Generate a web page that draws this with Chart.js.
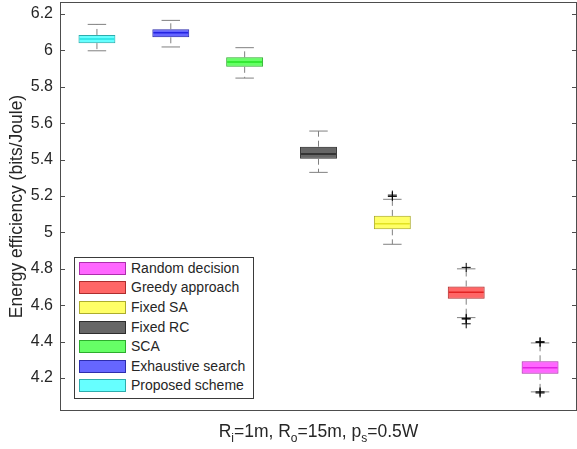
<!DOCTYPE html>
<html>
<head>
<meta charset="utf-8">
<script src="https://cdn.jsdelivr.net/npm/chart.js@4.4.1/dist/chart.umd.min.js"></script>
<style>
  html, body { margin: 0; padding: 0; background: #fff; }
  #wrap { position: relative; width: 577px; height: 449px; font-family: 'Liberation Sans', Arial, sans-serif; color: #262626; }
  #chart { position: absolute; left: 0; top: 0; }
  #legend { position: absolute; left: 74px; top: 257px; width: 178px; height: 140px; border: 1px solid #3a3a3a; background: #fff; }
  .item { position: absolute; left: 4px; height: 13px; font-size: 14px; line-height: 13px; white-space: nowrap; }
  .patch { position: absolute; left: 0; top: 0; width: 45px; height: 11px; border: 1px solid; }
  .lbl { position: absolute; left: 52px; top: 0; }
  #xtitle { position: absolute; left: 60px; width: 517px; top: 421px; text-align: center; font-size: 17.5px; line-height: 20px; }
  #xtitle sub { font-size: 12px; vertical-align: -5px; line-height: 0; }
</style>
</head>
<body>
<div id="wrap">
  <canvas id="chart" width="577" height="449"></canvas>
  <div id="legend"></div>
  <div id="xtitle">R<sub>i</sub>=1m, R<sub>o</sub>=15m, p<sub>s</sub>=0.5W</div>
</div>
<script>
// box order on the x axis (1..7)
const categories = ['Proposed scheme', 'Exhaustive search', 'SCA', 'Fixed RC', 'Fixed SA', 'Greedy approach', 'Random decision'];
const positions = [1, 2, 3, 4, 5, 6, 7];

const whiskerLow  = [5.998, 6.019, 5.848, 5.330, 4.935, 4.532, 4.124];
const q1          = [6.040, 6.072, 5.910, 5.405, 5.017, 4.636, 4.223];
const medians     = [6.063, 6.097, 5.936, 5.431, 5.048, 4.672, 4.256];
const q3          = [6.085, 6.116, 5.962, 5.471, 5.091, 4.703, 4.292];
const whiskerHigh = [6.143, 6.165, 6.015, 5.557, 5.182, 4.800, 4.393];

const outlierPos = [5, 5, 6, 6, 6, 6, 7, 7, 7, 7];
const outlierVal = [5.205, 5.198, 4.808, 4.528, 4.524, 4.498, 4.400, 4.396, 4.124, 4.118];

const yTicks = [4.2, 4.4, 4.6, 4.8, 5.0, 5.2, 5.4, 5.6, 5.8, 6.0, 6.2];
const legendOrder = [6, 5, 4, 3, 2, 1, 0];

// base rgb per box (matlab-ish), fill is 0.6 alpha of it
const baseColors = [[0, 255, 255], [0, 0, 255], [0, 255, 0], [0, 0, 0], [255, 255, 0], [255, 0, 0], [255, 0, 255]];
const fillOf = c => `rgba(${c[0]}, ${c[1]}, ${c[2]}, 0.6)`;
const edgeOf = c => `rgb(${c.map(v => Math.round(v * 0.5 + 45)).join(',')})`;
const medOf = c => `rgb(${c.map(v => Math.round(v * 0.75 + 35)).join(',')})`;

const whiskerColor = '#808080';

// whisker segments, broken with nulls
const whiskerPts = [];
positions.forEach((p, i) => {
    whiskerPts.push({ x: p, y: q3[i] }, { x: p, y: whiskerHigh[i] }, { x: p, y: null });
    whiskerPts.push({ x: p, y: q1[i] }, { x: p, y: whiskerLow[i] }, { x: p, y: null });
});
const capPts = [];
positions.forEach((p, i) => {
    capPts.push({ x: p, y: whiskerHigh[i] }, { x: p, y: whiskerLow[i] });
});

const unitPx = (chart, frac) => {
    const x = chart.scales.x;
    return Math.abs(x.getPixelForValue(1 + frac) - x.getPixelForValue(1));
};

// no label overhang padding, the plot box is fixed
const noPad = s => { s.paddingTop = 0; s.paddingBottom = 0; s.paddingLeft = 0; s.paddingRight = 0; };

const axesBox = {
    id: 'axesBox',
    afterDatasetsDraw(chart) {
        const { ctx, chartArea: a, scales: { y } } = chart;
        ctx.save();
        ctx.strokeStyle = '#4d4d4d';
        ctx.lineWidth = 1;
        ctx.strokeRect(a.left + 0.5, a.top + 0.5, a.right - a.left - 1, a.bottom - a.top - 1);
        ctx.beginPath();
        y.ticks.forEach(t => {
            const py = Math.round(y.getPixelForValue(t.value)) + 0.5;
            ctx.moveTo(a.left, py); ctx.lineTo(a.left + 5, py);
            ctx.moveTo(a.right, py); ctx.lineTo(a.right - 5, py);
        });
        ctx.stroke();
        ctx.restore();
    }
};

new Chart(document.getElementById('chart'), {
    type: 'bar',
    data: {
        datasets: [{
            type: 'bar',
            label: 'boxes',
            data: positions.map((p, i) => ({ x: p, y: [q1[i], q3[i]] })),
            backgroundColor: baseColors.map(fillOf),
            borderColor: baseColors.map(edgeOf),
            borderWidth: 1,
            borderSkipped: false,
            barPercentage: 0.5,
            categoryPercentage: 1,
            order: 4
        }, {
            type: 'line',
            label: 'whiskers',
            data: whiskerPts,
            borderColor: whiskerColor,
            borderWidth: 1,
            borderDash: [6, 4],
            pointRadius: 0,
            spanGaps: false,
            order: 3
        }, {
            type: 'scatter',
            label: 'caps',
            data: capPts,
            pointStyle: 'line',
            pointRadius: c => unitPx(c.chart, 0.125),
            borderColor: whiskerColor,
            borderWidth: 1,
            order: 2
        }, {
            type: 'scatter',
            label: 'medians',
            data: positions.map((p, i) => ({ x: p, y: medians[i] })),
            pointStyle: 'line',
            pointRadius: c => unitPx(c.chart, 0.25) - 1,
            borderColor: baseColors.map(medOf),
            borderWidth: 1.5,
            order: 1
        }, {
            type: 'scatter',
            label: 'outliers',
            data: outlierPos.map((p, i) => ({ x: p, y: outlierVal[i] })),
            pointStyle: 'cross',
            pointRadius: 4.5,
            borderColor: '#000',
            borderWidth: 1,
            order: 0
        }]
    },
    options: {
        responsive: false,
        animation: false,
        events: [],
        layout: { autoPadding: false, padding: { top: 2, right: 0, bottom: 0, left: 0 } },
        plugins: {
            legend: { display: false },
            tooltip: { enabled: false }
        },
        scales: {
            x: {
                type: 'linear',
                min: 0.5,
                max: 7.5,
                offset: false,
                ticks: { display: false },
                grid: { display: false, drawTicks: false },
                border: { display: false },
                afterBuildTicks: s => { s.ticks = positions.map(v => ({ value: v })); },
                afterFit: s => { s.height = 38; noPad(s); }
            },
            y: {
                min: 4.019,
                max: 6.266,
                ticks: {
                    color: '#262626',
                    padding: 7,
                    font: { family: 'Liberation Sans', size: 16 },
                    callback: v => String(Math.round(v * 10) / 10)
                },
                grid: { display: false, drawTicks: false },
                border: { display: false },
                title: {
                    display: true,
                    text: 'Energy efficiency (bits/Joule)',
                    color: '#262626',
                    font: { family: 'Liberation Sans', size: 17.5 },
                    padding: { top: 6.5, bottom: 0 }
                },
                afterBuildTicks: s => { s.ticks = yTicks.map(v => ({ value: v })); },
                afterFit: s => { s.width = 60; noPad(s); }
            }
        }
    },
    plugins: [axesBox]
});

// legend, same order as matlab legend box
const legend = document.getElementById('legend');
legendOrder.forEach((idx, k) => {
    const item = document.createElement('div');
    item.className = 'item';
    item.style.top = (3.7 + k * 19.6) + 'px';
    const patch = document.createElement('div');
    patch.className = 'patch';
    patch.style.background = fillOf(baseColors[idx]);
    patch.style.borderColor = edgeOf(baseColors[idx]);
    const lbl = document.createElement('span');
    lbl.className = 'lbl';
    lbl.textContent = categories[idx];
    item.appendChild(patch);
    item.appendChild(lbl);
    legend.appendChild(item);
});
</script>
</body>
</html>
